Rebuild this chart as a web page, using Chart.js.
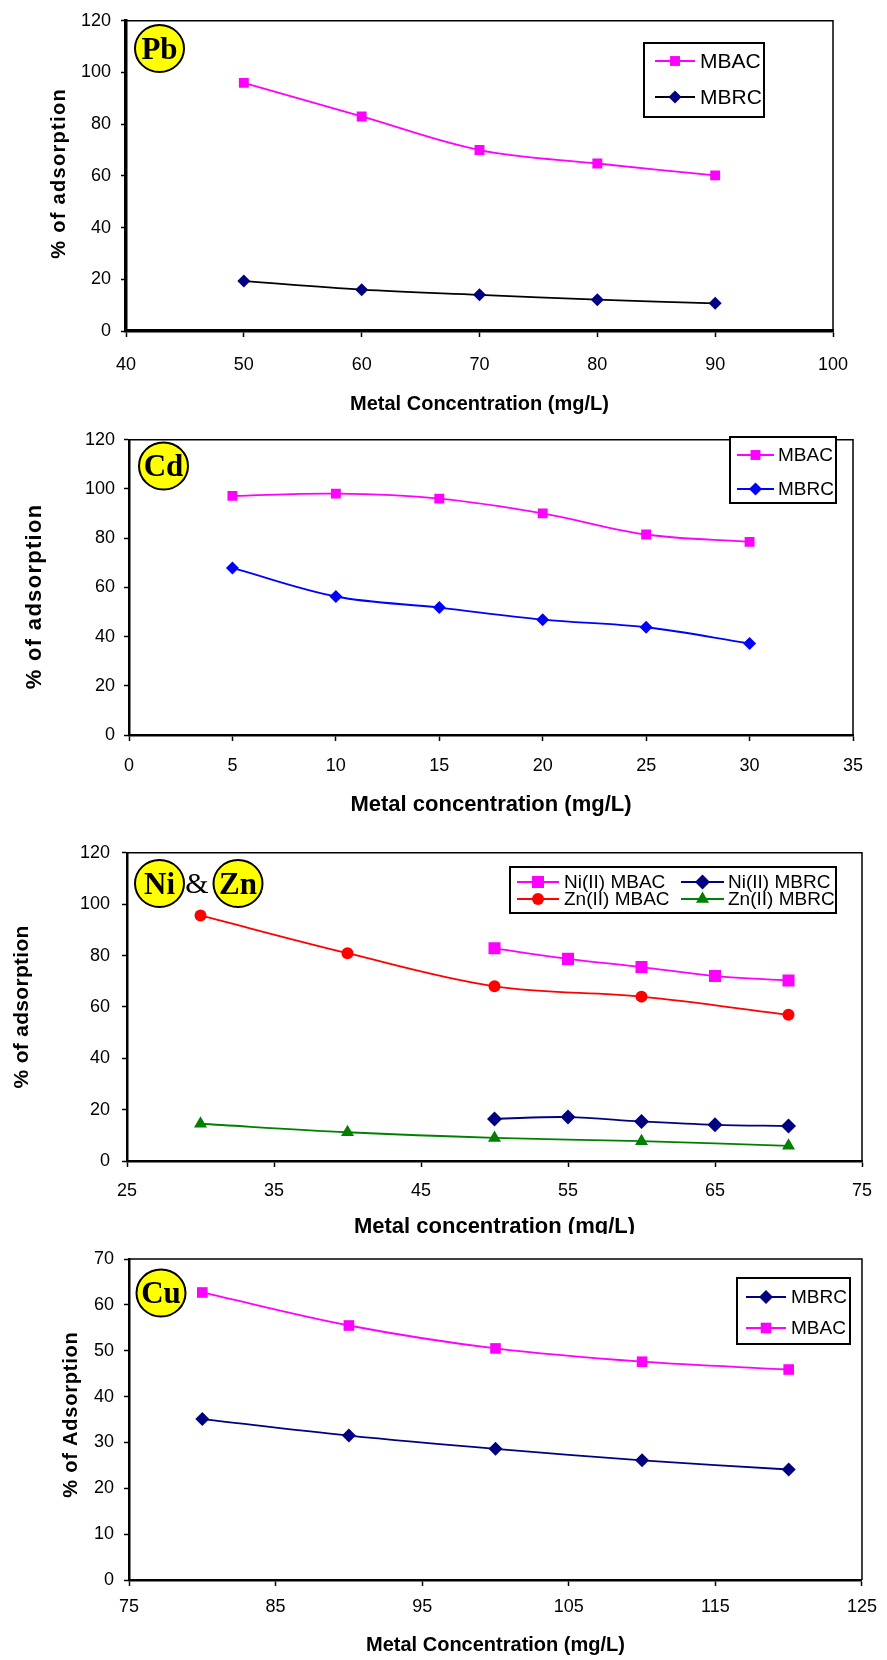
<!DOCTYPE html>
<html>
<head>
<meta charset="utf-8">
<script src="https://cdn.jsdelivr.net/npm/chart.js@4.4.1/dist/chart.umd.min.js"></script>
<style>
  html, body { margin: 0; padding: 0; background: #fff; }
  body { position: relative; width: 887px; height: 1660px; overflow: hidden; }
  .box { position: absolute; left: 0; width: 887px; overflow: hidden; }
  canvas { display: block; }
</style>
</head>
<body>
<div class="box" style="top:0;height:420px"><canvas id="pbChart" width="887" height="420"></canvas></div>
<div class="box" style="top:420px;height:410px"><canvas id="cdChart" width="887" height="410"></canvas></div>
<div class="box" style="top:830px;height:404px"><canvas id="niznChart" width="887" height="420"></canvas></div>
<div class="box" style="top:1234px;height:426px"><canvas id="cuChart" width="887" height="426"></canvas></div>
<script>
// ---- data ----
// Pb
const pbConc = [50, 60, 70, 80, 90];
const pbMBAC = [96, 83, 70, 64.8, 60.2];
const pbMBRC = [19.3, 16, 14, 12.1, 10.7];

// Cd
const cdConc = [5, 10, 15, 20, 25, 30];
const cdMBAC = [97.2, 98.1, 96.1, 90.1, 81.5, 78.5];
const cdMBRC = [67.9, 56.3, 51.8, 46.9, 43.8, 37.2];

// Ni & Zn
const niConc = [50, 55, 60, 65, 70];
const niMBAC = [82.8, 78.7, 75.5, 72.0, 70.3];
const niMBRC = [16.4, 17.1, 15.4, 14.1, 13.6];
const znConc = [30, 40, 50, 60, 70];
const znMBAC = [95.6, 80.9, 68.0, 64.0, 56.9];
const znMBRC = [14.5, 11.2, 9.0, 7.7, 5.9];

// Cu
const cuConc = [80, 90, 100, 110, 120];
const cuMBRC = [35.1, 31.5, 28.6, 26.1, 24.1];
const cuMBAC = [62.7, 55.5, 50.5, 47.6, 45.9];

const FONT = '"Liberation Sans", Arial, sans-serif';
const SERIF = '"Liberation Serif", "Times New Roman", serif';

Chart.defaults.color = '#000';
Chart.defaults.font.family = FONT;
Chart.defaults.devicePixelRatio = 1;

function pts(xs, ys) {
    return xs.map((x, i) => ({ x: x, y: ys[i] }));
}

function series(label, xs, ys, line, point, style, radius) {
    return {
        label: label,
        data: pts(xs, ys),
        borderColor: line,
        backgroundColor: point,
        pointBackgroundColor: point,
        pointBorderColor: point,
        pointStyle: style,
        pointRadius: radius,
        pointBorderWidth: 0,
        borderWidth: 1.8,
        tension: 0.35,
        fill: false
    };
}

// frame, badges, legend box and axis titles
const extras = {
    id: 'extras',
    afterDraw(chart, args, o) {
        const ctx = chart.ctx;
        const a = chart.chartArea;
        ctx.save();

        // thin top / right frame
        ctx.strokeStyle = '#000';
        ctx.lineWidth = 1.5;
        ctx.beginPath();
        ctx.moveTo(a.left, a.top);
        ctx.lineTo(a.right, a.top);
        ctx.lineTo(a.right, a.bottom);
        ctx.stroke();

        // yellow element badges
        (o.badges || []).forEach(b => {
            if (b.circle) {
                ctx.beginPath();
                ctx.ellipse(b.x, b.y, 24.5, 23.5, 0, 0, Math.PI * 2);
                ctx.fillStyle = '#FFFF00';
                ctx.fill();
                ctx.lineWidth = 2;
                ctx.strokeStyle = '#000';
                ctx.stroke();
            }
            ctx.fillStyle = '#000';
            ctx.font = (b.circle ? 'bold ' : '') + b.size + 'px ' + SERIF;
            ctx.textAlign = 'center';
            ctx.textBaseline = 'middle';
            ctx.fillText(b.text, b.x, b.y + 2);
        });

        // legend
        const lg = o.legend;
        if (lg) {
            ctx.fillStyle = '#fff';
            ctx.fillRect(lg.x1, lg.y1, lg.x2 - lg.x1, lg.y2 - lg.y1);
            ctx.strokeStyle = '#000';
            ctx.lineWidth = 2;
            ctx.strokeRect(lg.x1, lg.y1, lg.x2 - lg.x1, lg.y2 - lg.y1);
            lg.items.forEach(it => {
                const ds = chart.data.datasets[it.ds];
                ctx.strokeStyle = ds.borderColor;
                ctx.lineWidth = 1.8;
                ctx.beginPath();
                ctx.moveTo(it.l1, it.y);
                ctx.lineTo(it.l2, it.y);
                ctx.stroke();
                ctx.fillStyle = ds.pointBackgroundColor;
                ctx.strokeStyle = ds.pointBackgroundColor;
                Chart.helpers.drawPoint(ctx, {
                    pointStyle: ds.pointStyle,
                    radius: ds.pointRadius,
                    borderWidth: 0,
                    rotation: 0
                }, (it.l1 + it.l2) / 2, it.y);
                ctx.fillStyle = '#000';
                ctx.font = lg.size + 'px ' + FONT;
                ctx.textAlign = 'left';
                ctx.textBaseline = 'middle';
                ctx.fillText(ds.label, it.tx, it.y + 1);
            });
        }

        // y title
        const yt = o.yTitle;
        ctx.save();
        ctx.translate(yt.x, yt.y);
        ctx.rotate(-Math.PI / 2);
        ctx.font = 'bold ' + yt.size + 'px ' + FONT;
        ctx.letterSpacing = yt.spacing + 'px';
        ctx.textAlign = 'center';
        ctx.textBaseline = 'middle';
        ctx.fillStyle = '#000';
        ctx.fillText(yt.text, yt.spacing / 2, 0);
        ctx.restore();

        // x title
        const xt = o.xTitle;
        ctx.font = 'bold ' + xt.size + 'px ' + FONT;
        ctx.textAlign = 'center';
        ctx.textBaseline = xt.baseline || 'middle';
        ctx.fillStyle = '#000';
        ctx.fillText(xt.text, (a.left + a.right) / 2, xt.y);

        ctx.restore();
    }
};

function makeChart(id, area, xAxis, yAxis, datasets, extraOpts) {
    const canvas = document.getElementById(id);
    const W = canvas.width, H = canvas.height;
    return new Chart(canvas.getContext('2d'), {
        type: 'line',
        data: { datasets: datasets },
        options: {
            responsive: false,
            animation: false,
            events: [],
            layout: {
                padding: { left: 0, top: area.top, right: W - area.right, bottom: 0 }
            },
            plugins: {
                legend: { display: false },
                tooltip: { enabled: false },
                extras: extraOpts
            },
            scales: {
                x: {
                    type: 'linear',
                    min: xAxis.min,
                    max: xAxis.max,
                    afterFit: s => { s.height = H - area.bottom; },
                    border: { display: true, color: '#000', width: xAxis.border },
                    grid: { drawOnChartArea: false, drawTicks: true, tickLength: 6, tickColor: '#000', tickWidth: 1.5 },
                    ticks: {
                        stepSize: xAxis.step,
                        padding: xAxis.pad,
                        maxRotation: 0,
                        autoSkip: false,
                        font: { size: 18, family: FONT },
                        color: '#000'
                    }
                },
                y: {
                    min: yAxis.min,
                    max: yAxis.max,
                    afterFit: s => { s.width = area.left; },
                    border: { display: true, color: '#000', width: yAxis.border },
                    grid: { drawOnChartArea: false, drawTicks: true, tickLength: 5, tickColor: '#000', tickWidth: 1.5 },
                    ticks: {
                        stepSize: yAxis.step,
                        padding: yAxis.pad,
                        font: { size: 18, family: FONT },
                        color: '#000'
                    }
                }
            }
        },
        plugins: [extras]
    });
}

// Pb
makeChart('pbChart',
    { left: 126, top: 16, right: 833, bottom: 331 },
    { min: 40, max: 100, step: 10, pad: 17, border: 3.5 },
    { min: 0, max: 120, step: 20, pad: 10, border: 3.5 },
    [
        series('MBAC', pbConc, pbMBAC, '#FF00FF', '#FF00FF', 'rect', 7),
        series('MBRC', pbConc, pbMBRC, '#000000', '#000080', 'rectRot', 6.5)
    ],
    {
        badges: [{ text: 'Pb', x: 159.5, y: 48.5, size: 31, circle: true }],
        legend: {
            x1: 644, y1: 43, x2: 764, y2: 117, size: 21,
            items: [
                { ds: 0, y: 61, l1: 655, l2: 695, tx: 700 },
                { ds: 1, y: 97, l1: 655, l2: 695, tx: 700 }
            ]
        },
        yTitle: { text: '% of adsorption', x: 59, y: 174, size: 20, spacing: 1.3 },
        xTitle: { text: 'Metal Concentration (mg/L)', y: 404, size: 20 }
    }
);

// Cd
makeChart('cdChart',
    { left: 129, top: 12, right: 853, bottom: 315 },
    { min: 0, max: 35, step: 5, pad: 14, border: 2.5 },
    { min: 0, max: 120, step: 20, pad: 9, border: 2.5 },
    [
        series('MBAC', cdConc, cdMBAC, '#FF00FF', '#FF00FF', 'rect', 7),
        series('MBRC', cdConc, cdMBRC, '#0000FF', '#0000FF', 'rectRot', 6.5)
    ],
    {
        badges: [{ text: 'Cd', x: 163.5, y: 46, size: 31, circle: true }],
        legend: {
            x1: 730, y1: 17, x2: 836, y2: 83, size: 19,
            items: [
                { ds: 0, y: 35, l1: 737, l2: 774, tx: 778 },
                { ds: 1, y: 69, l1: 737, l2: 774, tx: 778 }
            ]
        },
        yTitle: { text: '% of adsorption', x: 35, y: 177, size: 22, spacing: 1.3 },
        xTitle: { text: 'Metal concentration (mg/L)', y: 385, size: 22 }
    }
);

// Ni & Zn
makeChart('niznChart',
    { left: 127, top: 19, right: 862, bottom: 331 },
    { min: 25, max: 75, step: 10, pad: 13, border: 2.5 },
    { min: 0, max: 120, step: 20, pad: 12, border: 2.5 },
    [
        series('Ni(II) MBAC', niConc, niMBAC, '#FF00FF', '#FF00FF', 'rect', 8.5),
        series('Ni(II) MBRC', niConc, niMBRC, '#000080', '#000080', 'rectRot', 7.5),
        series('Zn(II) MBAC', znConc, znMBAC, '#FF0000', '#FF0000', 'circle', 6),
        series('Zn(II) MBRC', znConc, znMBRC, '#008000', '#008000', 'triangle', 7.5)
    ],
    {
        badges: [
            { text: 'Ni', x: 159.5, y: 53.5, size: 31, circle: true },
            { text: '&', x: 197, y: 53.5, size: 30, circle: false },
            { text: 'Zn', x: 238, y: 53.5, size: 31, circle: true }
        ],
        legend: {
            x1: 510, y1: 37, x2: 836, y2: 83, size: 19,
            items: [
                { ds: 0, y: 52, l1: 517, l2: 559, tx: 564 },
                { ds: 1, y: 52, l1: 681, l2: 724, tx: 728 },
                { ds: 2, y: 69, l1: 517, l2: 559, tx: 564 },
                { ds: 3, y: 69, l1: 681, l2: 724, tx: 728 }
            ]
        },
        yTitle: { text: '% of adsorption', x: 22, y: 177, size: 21, spacing: 0.3 },
        xTitle: { text: 'Metal concentration (mg/L)', y: 403, size: 22, baseline: 'alphabetic' }
    }
);

// Cu
makeChart('cuChart',
    { left: 129, top: 25, right: 869, bottom: 346 },
    { min: 75, max: 125, step: 10, pad: 10, border: 2.5 },
    { min: 0, max: 70, step: 10, pad: 10, border: 2.5 },
    [
        series('MBRC', cuConc, cuMBRC, '#000080', '#000080', 'rectRot', 7),
        series('MBAC', cuConc, cuMBAC, '#FF00FF', '#FF00FF', 'rect', 7.5)
    ],
    {
        badges: [{ text: 'Cu', x: 161, y: 59, size: 31, circle: true }],
        legend: {
            x1: 737, y1: 44, x2: 850, y2: 110, size: 19,
            items: [
                { ds: 0, y: 63, l1: 746, l2: 786, tx: 791 },
                { ds: 1, y: 94, l1: 746, l2: 786, tx: 791 }
            ]
        },
        yTitle: { text: '% of Adsorption', x: 71, y: 181, size: 20, spacing: 0.8 },
        xTitle: { text: 'Metal Concentration (mg/L)', y: 411, size: 20 }
    }
);
</script>
</body>
</html>
